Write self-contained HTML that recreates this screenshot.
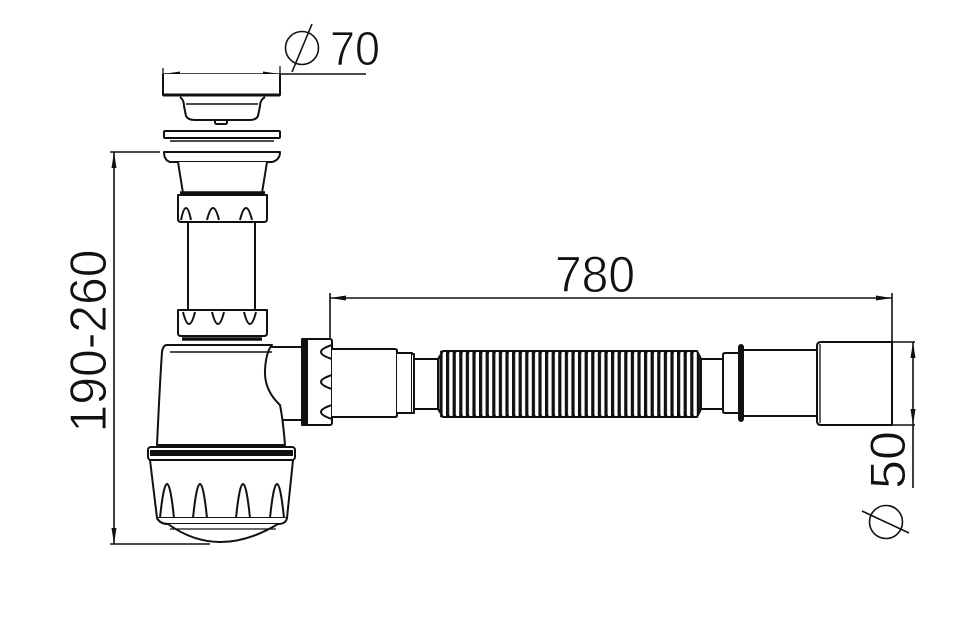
<!DOCTYPE html>
<html><head><meta charset="utf-8"><style>
html,body{margin:0;padding:0;background:#fff;}
svg{display:block;}
text{font-family:"Liberation Sans",sans-serif;fill:#111;stroke:#fff;stroke-width:0.9;paint-order:normal;}
</style></head><body>
<svg width="960" height="637" viewBox="0 0 960 637" xmlns="http://www.w3.org/2000/svg">
<defs>
<pattern id="rib" x="438" y="0" width="6.6" height="637" patternUnits="userSpaceOnUse">
<rect x="1.4" y="0" width="3.2" height="637" fill="#111"/>
</pattern>
</defs>
<g stroke="#111" stroke-width="2" fill="#fff" stroke-linejoin="round">

<!-- Ø70 dimension -->
<line x1="163" y1="74" x2="366" y2="74" stroke-width="1.6"/>
<line x1="163" y1="68" x2="163" y2="80" stroke-width="1.3"/>
<line x1="280" y1="66" x2="280" y2="80" stroke-width="1.3"/>
<path d="M163 74 L180 71.5 L180 76.5 Z M280 74 L263 71.5 L263 76.5Z" fill="#111" stroke="none"/>
<circle cx="302" cy="48" r="16.5" fill="none" stroke-width="1.6"/>
<line x1="292" y1="72" x2="312" y2="24" stroke-width="1.6"/>

<!-- strainer cap -->
<path d="M163 74 L163 95 L280 95 L280 74" />
<line x1="163" y1="95" x2="280" y2="95" stroke-width="3"/>
<path d="M180 97 Q184 100 184 106 L186 116 Q188 120 195 120 L250 120 Q256 120 258 116 L260 106 Q260 100 265 97" />
<line x1="186" y1="104" x2="258" y2="104" stroke-width="1.5"/>
<rect x="215" y="120" width="12" height="4" rx="1.5"/>

<!-- gasket ring -->
<rect x="164" y="131" width="116" height="7" rx="1"/>
<line x1="167" y1="138" x2="277" y2="138" stroke-width="1.2"/>
<line x1="170" y1="141" x2="274" y2="141" stroke-width="1.5"/>

<!-- flange + cone -->
<path d="M164 152 L280 152 Q280 160 272 162 L170 162 Q164 160 164 152 Z"/>
<path d="M178 162 L183 193 L262 193 L267 162"/>
<line x1="180" y1="193" x2="265" y2="193" stroke-width="3.5"/>

<!-- nut 1 -->
<path d="M178 195 L267 195 L267 219 Q267 222 264 222 L181 222 Q178 222 178 219 Z"/>
<path d="M181 220 Q186 196 191 220 M207 220 Q213 196 219 220 M240 220 Q246 196 252 220" fill="none"/>

<!-- pipe -->
<line x1="188" y1="222" x2="188" y2="310"/>
<line x1="255" y1="222" x2="255" y2="310"/>

<!-- nut 2 -->
<path d="M178 310 L267 310 L267 333 Q267 336 264 336 L181 336 Q178 336 178 333 Z"/>
<path d="M183 312 Q189 336 195 312 M212 312 Q218 336 224 312 M244 312 Q250 336 256 312" fill="none"/>
<line x1="182" y1="339" x2="262" y2="339" stroke-width="3.5"/>

<!-- side outlet pipe behind nut -->
<path d="M270 347 L302 347 L302 420 L283 420"/>

<!-- trap body -->
<path d="M167 345 L272 345 Q266 352 265 370 Q264 390 280 405 Q283 420 285 445 L157 445 Q160 380 162 352 Q163 345 167 345 Z"/>
<line x1="170" y1="352" x2="272" y2="352" stroke-width="1.5"/>

<!-- nut 3 -->
<rect x="302" y="339" width="30" height="86" rx="2"/>
<rect x="302" y="339" width="5" height="86" fill="#111"/>
<path d="M332 345 Q310 352 332 359 M332 375 Q310 382 332 389 M332 405 Q310 412 332 419" fill="none"/>

<!-- bottom nut -->
<rect x="148" y="447" width="147" height="13" rx="3"/>
<rect x="150" y="450" width="143" height="6" fill="#111" stroke="none"/>
<path d="M150 460 L293 460 L287 518 L157 518 Z"/>
<path d="M160 518 Q167 450 174 518 M193 518 Q200 450 207 518 M236 518 Q243 450 250 518 M270 518 Q277 450 284 518" fill="none"/>
<path d="M157 518 Q160 524 168 524 L278 524 Q286 524 287 518"/>
<path d="M168 524 Q218 560 278 524" />
<line x1="170" y1="529" x2="276" y2="529" stroke-width="1.3"/>

<!-- height dimension -->
<line x1="114" y1="152" x2="114" y2="544" stroke-width="1.6"/>
<line x1="110" y1="152" x2="160" y2="152" stroke-width="1.6"/>
<line x1="110" y1="544" x2="210" y2="544" stroke-width="1.6"/>
<path d="M114 152 L111.5 168 L116.5 168 Z M114 544 L111.5 528 L116.5 528 Z" fill="#111" stroke="none"/>

<!-- right pipe after nut -->
<path d="M332 349 L395 349 Q397 349 397 351 L397 415 Q397 417 395 417 L332 417"/>
<path d="M397 353 L412 353 L412 413 L397 413"/>
<path d="M412 354 L414 354 L414 413 L412 413"/>
<path d="M414 359 L438 359 M414 409 L438 409"/>

<!-- corrugated -->
<path d="M438 359 L443 351 L697 351 L701 359 L701 409 L697 417 L443 417 L438 409 Z" fill="url(#rib)"/>
<line x1="440" y1="352" x2="698" y2="352" stroke-width="2.5" stroke-dasharray="3 3.6"/>
<line x1="440" y1="416" x2="698" y2="416" stroke-width="2.5" stroke-dasharray="3 3.6"/>

<path d="M701 359 L725 359 M701 409 L725 409"/>
<path d="M725 353 L740 353 L740 413 L725 413 Q723 413 723 411 L723 355 Q723 353 725 353 Z"/>
<rect x="739" y="345" width="4" height="76" rx="2" fill="#111"/>
<path d="M743 350 L817 350 M743 416 L817 416"/>

<!-- end sleeve -->
<path d="M821 342 L892 342 L892 425 L821 425 Q817 425 817 421 L817 346 Q817 342 821 342 Z"/>
<line x1="820" y1="344" x2="820" y2="423" stroke-width="1.3"/>

<!-- 780 dimension -->
<line x1="330" y1="298" x2="892" y2="298" stroke-width="1.6"/>
<line x1="330" y1="293" x2="330" y2="340" stroke-width="1.6"/>
<line x1="892" y1="293" x2="892" y2="342" stroke-width="1.6"/>
<path d="M330 298 L346 295.5 L346 300.5 Z M892 298 L876 295.5 L876 300.5Z" fill="#111" stroke="none"/>

<!-- Ø50 dimension -->
<line x1="892" y1="342" x2="915" y2="342" stroke-width="1.6"/>
<line x1="892" y1="425" x2="915" y2="425" stroke-width="1.6"/>
<line x1="913" y1="342" x2="913" y2="488" stroke-width="1.6"/>
<path d="M913 342 L910.5 358 L915.5 358 Z M913 425 L910.5 409 L915.5 409Z" fill="#111" stroke="none"/>
<circle cx="886" cy="522" r="16.5" fill="none" stroke-width="1.6"/>
<line x1="862" y1="511" x2="909" y2="533" stroke-width="1.6"/>
</g>

<text x="330" y="65" font-size="48" textLength="50" lengthAdjust="spacingAndGlyphs">70</text>
<text x="595" y="292" font-size="51" text-anchor="middle" textLength="80" lengthAdjust="spacingAndGlyphs">780</text>
<text transform="translate(106,341) rotate(-90)" font-size="52" text-anchor="middle" textLength="183" lengthAdjust="spacingAndGlyphs">190-260</text>
<text transform="translate(905,460) rotate(-90)" font-size="50" text-anchor="middle" textLength="58" lengthAdjust="spacingAndGlyphs">50</text>
</svg>
</body></html>
